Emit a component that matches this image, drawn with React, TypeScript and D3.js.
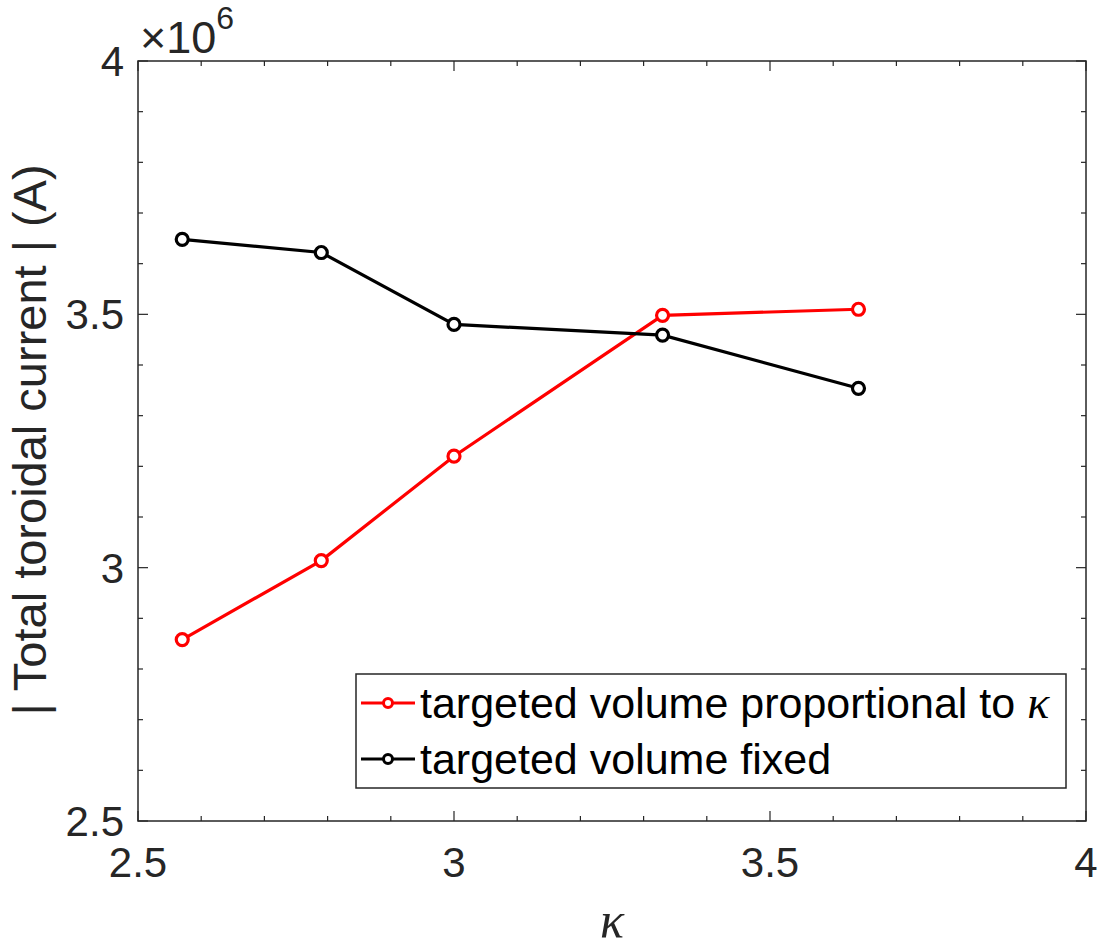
import React from "react";
import * as d3 from "d3";

const kappa = [2.57, 2.79, 3.0, 3.33, 3.64];
const currentProportional = [2.858e6, 3.014e6, 3.22e6, 3.498e6, 3.51e6];
const currentFixed = [3.648e6, 3.622e6, 3.48e6, 3.459e6, 3.354e6];
const xTicks = [2.5, 3, 3.5, 4];
const yTicks = [2.5e6, 3e6, 3.5e6, 4e6];
const seriesNames = ["targeted volume proportional to ", "targeted volume fixed"];

const W = 1108, H = 951;
const L = 138, R = 1086, T = 61, B = 821;
const AX = "#262626";
const FONT = "'Liberation Sans', Arial, Helvetica, sans-serif";

export default function App() {
  const x = d3.scaleLinear().domain([2.5, 4]).range([L, R]);
  const y = d3.scaleLinear().domain([2.5e6, 4e6]).range([B, T]);
  const xMinor = d3.range(25, 41).map((v) => v / 10);
  const yMinor = d3.range(25, 41).map((v) => v * 1e5);
  const isMajorX = (v: number) => xTicks.some((t) => Math.abs(t - v) < 1e-9);
  const isMajorY = (v: number) => yTicks.some((t) => Math.abs(t - v) < 1);
  const line = d3
    .line<[number, number]>()
    .x((d) => x(d[0]))
    .y((d) => y(d[1]));
  const series = [
    { name: seriesNames[0], color: "#ff0000", vals: currentProportional },
    { name: seriesNames[1], color: "#000000", vals: currentFixed },
  ];
  const legX = 356, legY = 674, legW = 710, legH = 114;
  return (
    <svg width={W} height={H} style={{ position: "absolute", left: 0, top: 0, background: "#fff" }}>
      <rect x={0} y={0} width={W} height={H} fill="#fff" />
      {xMinor.map((v, i) => {
        const len = isMajorX(v) ? 10 : 5;
        return (
          <g key={"xt" + i} stroke={AX} strokeWidth={1.2}>
            <line x1={x(v)} x2={x(v)} y1={B} y2={B - len} />
            <line x1={x(v)} x2={x(v)} y1={T} y2={T + len} />
          </g>
        );
      })}
      {yMinor.map((v, i) => {
        const len = isMajorY(v) ? 10 : 5;
        return (
          <g key={"yt" + i} stroke={AX} strokeWidth={1.2}>
            <line x1={L} x2={L + len} y1={y(v)} y2={y(v)} />
            <line x1={R} x2={R - len} y1={y(v)} y2={y(v)} />
          </g>
        );
      })}
      <rect x={L} y={T} width={R - L} height={B - T} fill="none" stroke={AX} strokeWidth={1.5} />
      {xTicks.map((v) => (
        <text key={"xl" + v} x={x(v)} y={877} textAnchor="middle" fontFamily={FONT} fontSize={42} fill={AX}>
          {d3.format("")(v)}
        </text>
      ))}
      {yTicks.map((v) => (
        <text key={"yl" + v} x={124} y={y(v) + 15} textAnchor="end" fontFamily={FONT} fontSize={42} fill={AX}>
          {d3.format("")(v / 1e6)}
        </text>
      ))}
      <text x={140} y={53} fontFamily={FONT} fontSize={45} fill={AX}>
        ×10
        <tspan dy={-24} fontSize={32}>6</tspan>
      </text>
      <text
        transform={`translate(46, 440) rotate(-90)`}
        textAnchor="middle"
        fontFamily={FONT}
        fontSize={47}
        fill={AX}
      >
        | Total toroidal current | (A)
      </text>
      <text x={612} y={937} textAnchor="middle" fontFamily="'Liberation Serif', 'DejaVu Serif', serif" fontStyle="italic" fontSize={50} fill={AX}>
        κ
      </text>
      {series.map((s) => {
        const pts: [number, number][] = kappa.map((k, i) => [k, s.vals[i]]);
        return (
          <g key={s.name}>
            <path d={line(pts) || ""} fill="none" stroke={s.color} strokeWidth={3.2} />
            {pts.map((p, i) => (
              <circle key={i} cx={x(p[0])} cy={y(p[1])} r={6} fill="#fff" stroke={s.color} strokeWidth={3.2} />
            ))}
          </g>
        );
      })}
      <rect x={legX} y={legY} width={legW} height={legH} fill="#fff" stroke={AX} strokeWidth={1.5} />
      {series.map((s, i) => {
        const cy = legY + 29 + i * 56;
        return (
          <g key={"lg" + i}>
            <line x1={361} x2={415} y1={cy} y2={cy} stroke={s.color} strokeWidth={3.2} />
            <circle cx={388} cy={cy} r={4.5} fill="#fff" stroke={s.color} strokeWidth={3} />
            <text x={420} y={cy + 15} fontFamily={FONT} fontSize={43} fill="#000">
              {s.name}
              {i === 0 ? (
                <tspan fontFamily="'Liberation Serif', 'DejaVu Serif', serif" fontStyle="italic" fontSize={46}>
                  κ
                </tspan>
              ) : null}
            </text>
          </g>
        );
      })}
    </svg>
  );
}
